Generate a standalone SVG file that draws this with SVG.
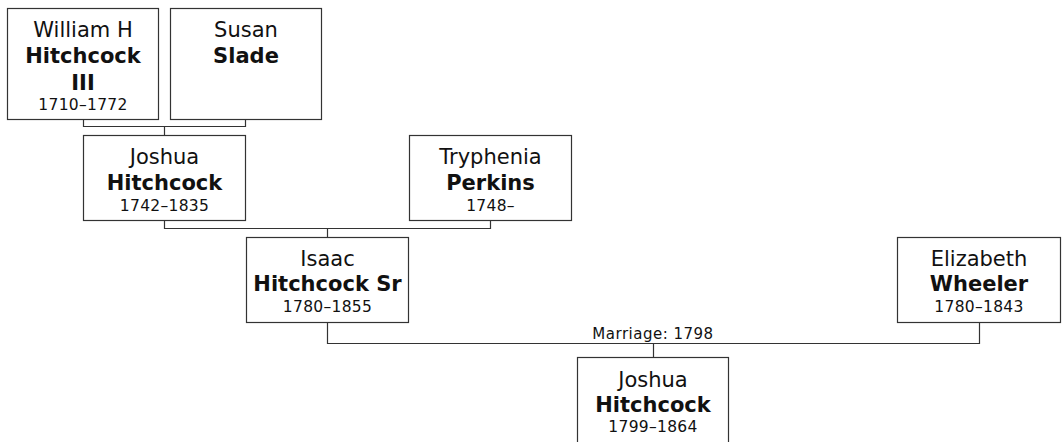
<svg xmlns="http://www.w3.org/2000/svg" width="1062" height="442" viewBox="0 0 1062 442">
<style>
.box{fill:#fff;stroke:#333;stroke-width:1.2}
.ln{fill:none;stroke:#333;stroke-width:1.2}
text{font-family:"DejaVu Sans",Verdana,sans-serif;fill:#111;text-anchor:middle}
.n{font-size:21px}
.b{font-size:21px;font-weight:bold}
.d{font-size:15.5px;letter-spacing:0.3px}
.m{font-size:15px;letter-spacing:0.5px}
</style>
<rect width="1062" height="442" fill="#fff"/>
<g id="connectors">
<path class="ln" d="M83.5,119.5V126.5H245.5V119.5M164.5,126.5V135.5"/>
<path class="ln" d="M164.5,220.5V228.5H490.5V220.5M327.5,228.5V237.5"/>
<path class="ln" d="M327.5,322.5V343.5H979.5V322.5M653.5,343.5V357.5"/>
<text class="m" x="653" y="339">Marriage: 1798</text>
</g>
<g id="william">
<rect class="box" x="7.5" y="8.5" width="151" height="111"/>
<text class="n" x="83" y="37">William H</text>
<text class="b" x="83" y="63">Hitchcock</text>
<text class="b" x="83" y="90">III</text>
<text class="d" x="83" y="110">1710–1772</text>
</g>
<g id="susan">
<rect class="box" x="170.5" y="8.5" width="151" height="111"/>
<text class="n" x="246" y="37">Susan</text>
<text class="b" x="246" y="63">Slade</text>
</g>
<g id="joshua1">
<rect class="box" x="83.5" y="135.5" width="162" height="85"/>
<text class="n" x="164.5" y="164">Joshua</text>
<text class="b" x="164.5" y="190">Hitchcock</text>
<text class="d" x="164.5" y="210.5">1742–1835</text>
</g>
<g id="tryphenia">
<rect class="box" x="409.5" y="135.5" width="162" height="85"/>
<text class="n" x="490.5" y="164">Tryphenia</text>
<text class="b" x="490.5" y="190">Perkins</text>
<text class="d" x="490.5" y="210.5">1748–</text>
</g>
<g id="isaac">
<rect class="box" x="246.5" y="237.5" width="162" height="85"/>
<text class="n" x="327.5" y="265.5">Isaac</text>
<text class="b" x="327.5" y="291">Hitchcock Sr</text>
<text class="d" x="327.5" y="311.5">1780–1855</text>
</g>
<g id="elizabeth">
<rect class="box" x="897.5" y="237.5" width="163" height="85"/>
<text class="n" x="979" y="265.5">Elizabeth</text>
<text class="b" x="979" y="291">Wheeler</text>
<text class="d" x="979" y="311.5">1780–1843</text>
</g>
<g id="joshua2">
<rect class="box" x="577.5" y="357.5" width="151" height="90"/>
<text class="n" x="653" y="386.5">Joshua</text>
<text class="b" x="653" y="412">Hitchcock</text>
<text class="d" x="653" y="432">1799–1864</text>
</g>
</svg>
